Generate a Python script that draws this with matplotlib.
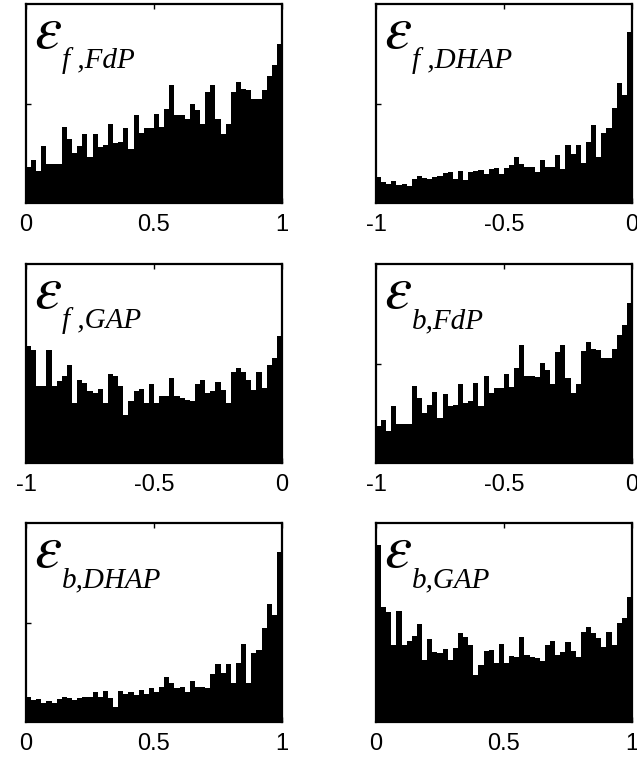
import numpy as np
import matplotlib
matplotlib.use("Agg")
import matplotlib.pyplot as plt

plt.rcParams['axes.unicode_minus'] = False
plt.rcParams['mathtext.fontset'] = 'stix'
plt.rcParams['font.family'] = ['Liberation Sans', 'DejaVu Sans']

# Histogram heights (50 bins each)
f_FdP = [36, 43, 32, 57, 39, 39, 39, 76, 64, 50, 57, 69, 46, 69, 56, 58, 79, 60, 61, 75,
         54, 88, 70, 75, 75, 89, 76, 94, 118, 88, 88, 84, 99, 93, 79, 111, 118, 84, 69, 79,
         111, 121, 114, 113, 104, 104, 113, 127, 138, 159]
f_DHAP = [26, 21, 19, 22, 18, 19, 17, 24, 27, 25, 24, 26, 27, 30, 31, 24, 32, 23, 31, 32,
          33, 29, 34, 35, 29, 35, 38, 46, 39, 36, 36, 31, 43, 36, 36, 48, 34, 58, 49, 58,
          40, 61, 78, 46, 70, 75, 95, 120, 108, 171]
f_GAP = [117, 113, 77, 77, 113, 77, 82, 87, 98, 60, 83, 80, 72, 70, 74, 60, 89, 87, 77, 48,
         62, 72, 74, 60, 79, 60, 67, 67, 85, 67, 65, 63, 62, 79, 83, 70, 72, 81, 73, 60,
         91, 95, 91, 83, 73, 91, 75, 98, 105, 127]
b_FdP = [37, 43, 32, 57, 39, 39, 39, 77, 65, 50, 58, 71, 45, 69, 57, 58, 79, 60, 62, 80,
         57, 87, 70, 75, 75, 89, 76, 95, 118, 87, 87, 86, 100, 93, 79, 111, 118, 85, 70, 79,
         112, 121, 114, 113, 105, 105, 114, 128, 138, 160]
b_DHAP = [25, 22, 23, 19, 21, 19, 23, 25, 24, 22, 24, 25, 25, 30, 25, 31, 24, 15, 31, 28,
          30, 27, 32, 28, 34, 30, 35, 45, 39, 34, 35, 30, 41, 35, 35, 34, 48, 58, 49, 58,
          39, 59, 78, 39, 69, 72, 94, 118, 107, 170]
b_GAP = [177, 115, 110, 77, 111, 77, 81, 86, 98, 62, 83, 70, 69, 73, 62, 74, 89, 85, 77, 47,
         57, 71, 72, 59, 78, 59, 66, 65, 85, 67, 65, 64, 61, 77, 81, 67, 70, 80, 71, 65,
         90, 95, 89, 84, 75, 90, 77, 99, 104, 125]

ranges = [(0, 1), (-1, 0), (-1, 0), (-1, 0), (0, 1), (0, 1)]
series = [f_FdP, f_DHAP, f_GAP, b_FdP, b_DHAP, b_GAP]
subs = ['f ,FdP', 'f ,DHAP', 'f ,GAP', 'b,FdP', 'b,DHAP', 'b,GAP']
tick_pos = {(0, 1): [0, 0.5, 1], (-1, 0): [-1, -0.5, 0]}
tick_lab = {(0, 1): ['0', '0.5', '1'], (-1, 0): ['-1', '-0.5', '0']}
ymax = 199

W, H = 637, 761
fig = plt.figure(figsize=(W / 100, H / 100), dpi=100)

lefts = [26, 376]
tops = [4, 264, 523]
aw, ah = 256, 199

for k in range(6):
    r, c = divmod(k, 2)
    l = lefts[c] / W
    b = (H - tops[r] - ah) / H
    ax = fig.add_axes([l, b, aw / W, ah / H])
    lo, hi = ranges[k]
    vals = np.array(series[k], dtype=float)
    edges = np.linspace(lo, hi, len(vals) + 1)
    ax.stairs(vals, edges, fill=True, color='black', linewidth=0)
    ax.set_xlim(lo, hi)
    ax.set_ylim(0, ymax)
    ax.set_xticks(tick_pos[ranges[k]])
    ax.set_xticklabels(tick_lab[ranges[k]])
    ax.set_yticks([ymax / 2])
    ax.set_yticklabels([''])
    ax.tick_params(axis='both', direction='in', length=3.5, width=1.0,
                   top=True, right=True, labelsize=17, pad=8)
    for s in ax.spines.values():
        s.set_linewidth(1.6)
    ax.text(8 / aw, 1 - 44 / ah, r'$\varepsilon$', transform=ax.transAxes,
            fontsize=44, va='baseline', ha='left')
    ax.text(36 / aw, 1 - 64 / ah, subs[k], transform=ax.transAxes,
            fontsize=21, va='baseline', ha='left',
            family=['Liberation Serif'], style='italic')

fig.savefig('out.png', dpi=100)
